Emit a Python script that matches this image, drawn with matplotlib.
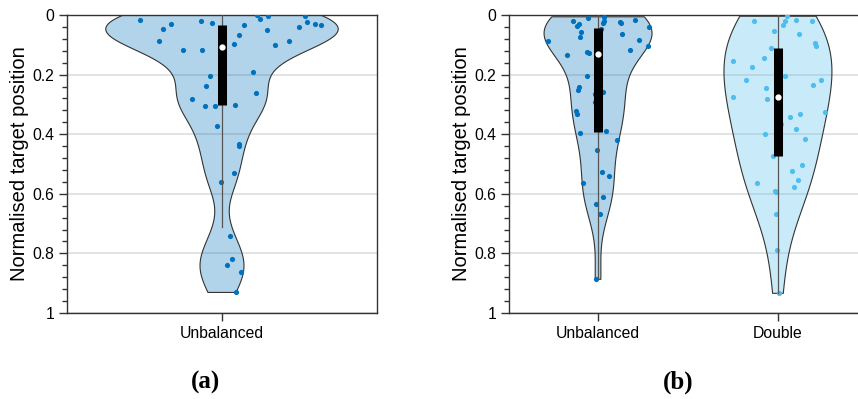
import matplotlib.pyplot as plt
import numpy as np

plt.rcParams['font.family'] = ['Liberation Sans', 'DejaVu Sans']

# normalised target position per trial, with the horizontal jitter of each dot
unbal_a = [0.018, 0.047, 0.031, 0.088, 0.117, 0.019, 0.028, 0.119, 0.205, 0.239,
           0.283, 0.304, 0.305, 0.374, 0.559, 0.742, 0.838, 0.819, 0.864, 0.931,
           0.303, 0.096, 0.066, 0.035, 0.191, 0.263, 0.432, 0.440, 0.530, 0.001,
           0.015, 0.004, 0.049, 0.100, 0.087, 0.041, 0.004, 0.025, 0.030, 0.034]
unbal_a_jit = [-0.212, -0.151, -0.131, -0.162, -0.101, -0.053, -0.026, -0.052, -0.030, -0.042,
               -0.078, -0.045, -0.018, -0.014, -0.003, 0.021, 0.012, 0.026, 0.048, 0.037,
               0.034, 0.030, 0.044, 0.058, 0.079, 0.088, 0.045, 0.043, 0.030, 0.091,
               0.098, 0.118, 0.116, 0.136, 0.172, 0.199, 0.215, 0.219, 0.240, 0.255]

unbal_b = [0.019, 0.031, 0.036, 0.058, 0.074, 0.009, 0.006, 0.026, 0.021, 0.048,
           0.023, 0.027, 0.017, 0.041, 0.063, 0.085, 0.104, 0.116, 0.086, 0.133,
           0.124, 0.129, 0.204, 0.241, 0.250, 0.258, 0.266, 0.293, 0.322, 0.333,
           0.397, 0.390, 0.421, 0.454, 0.362, 0.527, 0.540, 0.563, 0.610, 0.633,
           0.667, 0.887]
unbal_b_jit = [-0.141, -0.106, -0.115, -0.093, -0.098, -0.054, 0.033, 0.026, 0.032, 0.015,
               0.122, 0.128, 0.204, 0.281, 0.135, 0.226, 0.276, 0.178, -0.276, -0.172,
               -0.061, -0.050, -0.059, -0.106, -0.113, 0.026, -0.017, -0.017, -0.122, -0.115,
               -0.098, 0.043, 0.107, -0.006, 0.009, 0.022, 0.061, -0.085, 0.030, -0.013,
               0.009, -0.011]

double_b = [0.020, 0.055, 0.110, 0.004, 0.020, 0.035, 0.018, 0.019, 0.063, 0.094,
            0.104, 0.153, 0.145, 0.174, 0.218, 0.205, 0.234, 0.219, 0.245, 0.283,
            0.276, 0.326, 0.341, 0.333, 0.365, 0.384, 0.400, 0.417, 0.472, 0.503,
            0.523, 0.563, 0.554, 0.576, 0.590, 0.594, 0.668, 0.787, 0.934]
double_b_jit = [-0.133, -0.020, -0.039, 0.048, 0.041, 0.026, 0.100, 0.189, 0.117, 0.206,
                0.211, -0.252, -0.080, -0.143, -0.180, 0.039, 0.196, 0.239, -0.067, -0.059,
                -0.250, 0.259, 0.067, 0.120, 0.019, 0.100, -0.074, 0.152, -0.030, 0.133,
                0.076, -0.115, 0.111, 0.091, -0.019, -0.009, -0.013, -0.007, 0.007]

# quartiles, median and whisker ends for each box
stats_a = [(0.034, 0.107, 0.303, 0.0, 0.711)]
stats_b = [(0.043, 0.131, 0.393, 0.0, 0.887),
           (0.110, 0.275, 0.474, 0.0, 0.934)]

BLUE = '#0072BD'
LIGHT = '#4DBEEE'
EDGE = '#333333'


def density_outline(values, n=300):
    values = np.asarray(values)
    # Silverman's rule with a MAD based spread, as ksdensity does
    sig = np.median(np.abs(values - np.median(values))) / 0.6745
    bw = sig * (4 / (3 * len(values))) ** 0.2
    grid = np.linspace(values.min(), values.max(), n)
    dens = np.exp(-0.5 * ((grid[:, None] - values[None, :]) / bw) ** 2).sum(axis=1)
    return grid, dens / dens.max()


def violin(ax, pos, values, jitter, stats, color, width=0.3):
    y, d = density_outline(values)
    ax.fill_betweenx(y, pos - width * d, pos + width * d, facecolor=color,
                     alpha=0.3, lw=0, zorder=2)
    ax.fill_betweenx(y, pos - width * d, pos + width * d, facecolor='none',
                     edgecolor=EDGE, lw=0.8, zorder=2.1)
    ax.scatter(pos + np.asarray(jitter), values, s=14, color=color, lw=0, zorder=3)
    q1, med, q3, lo, hi = stats
    ax.plot([pos, pos], [lo, hi], color='#555555', lw=0.9, zorder=4)
    ax.plot([pos, pos], [q1, q3], color='k', lw=6.5, solid_capstyle='butt', zorder=5)
    ax.plot(pos, med, 'o', ms=3.5, mfc='white', mec='white', zorder=6)


def style(ax):
    ax.set_ylim(1, 0)
    ax.set_yticks(np.arange(0, 1.01, 0.2))
    ax.set_yticklabels(['0', '0.2', '0.4', '0.6', '0.8', '1'])
    ax.set_yticks(np.arange(0, 1.01, 0.04), minor=True)
    ax.yaxis.grid(True, color='#e0e0e0', lw=1.3)
    ax.set_axisbelow(True)
    ax.tick_params(which='major', direction='out', length=6, width=1,
                   labelsize=11.3, color=EDGE, pad=3)
    ax.tick_params(which='minor', direction='out', length=3.5, width=1, color=EDGE)
    ax.tick_params(axis='x', which='minor', bottom=False)
    for s in ax.spines.values():
        s.set_color(EDGE)
        s.set_linewidth(1)
    ax.set_ylabel('Normalised target position', fontsize=14.5, labelpad=2.5)


fig = plt.figure(figsize=(8.58, 3.99), dpi=100)

ax1 = fig.add_axes([67 / 858, 1 - 313 / 399, 310 / 858, 298 / 399])
violin(ax1, 1, unbal_a, unbal_a_jit, stats_a[0], BLUE)
ax1.set_xlim(0.6, 1.4)
ax1.set_xticks([1])
ax1.set_xticklabels(['Unbalanced'])
style(ax1)

ax2 = fig.add_axes([509 / 858, 1 - 313 / 399, 358 / 858, 298 / 399])
violin(ax2, 1, unbal_b, unbal_b_jit, stats_b[0], BLUE)
violin(ax2, 2, double_b, double_b_jit, stats_b[1], LIGHT)
ax2.set_xlim(0.505, 2.495)
ax2.set_xticks([1, 2])
ax2.set_xticklabels(['Unbalanced', 'Double'])
style(ax2)

for x, lab in [(205, '(a)'), (678, '(b)')]:
    fig.text(x / 858, 1 - 382 / 399, lab, ha='center', va='center',
             family='Liberation Serif', weight='bold', fontsize=18)

fig.savefig('out.png', dpi=100)
